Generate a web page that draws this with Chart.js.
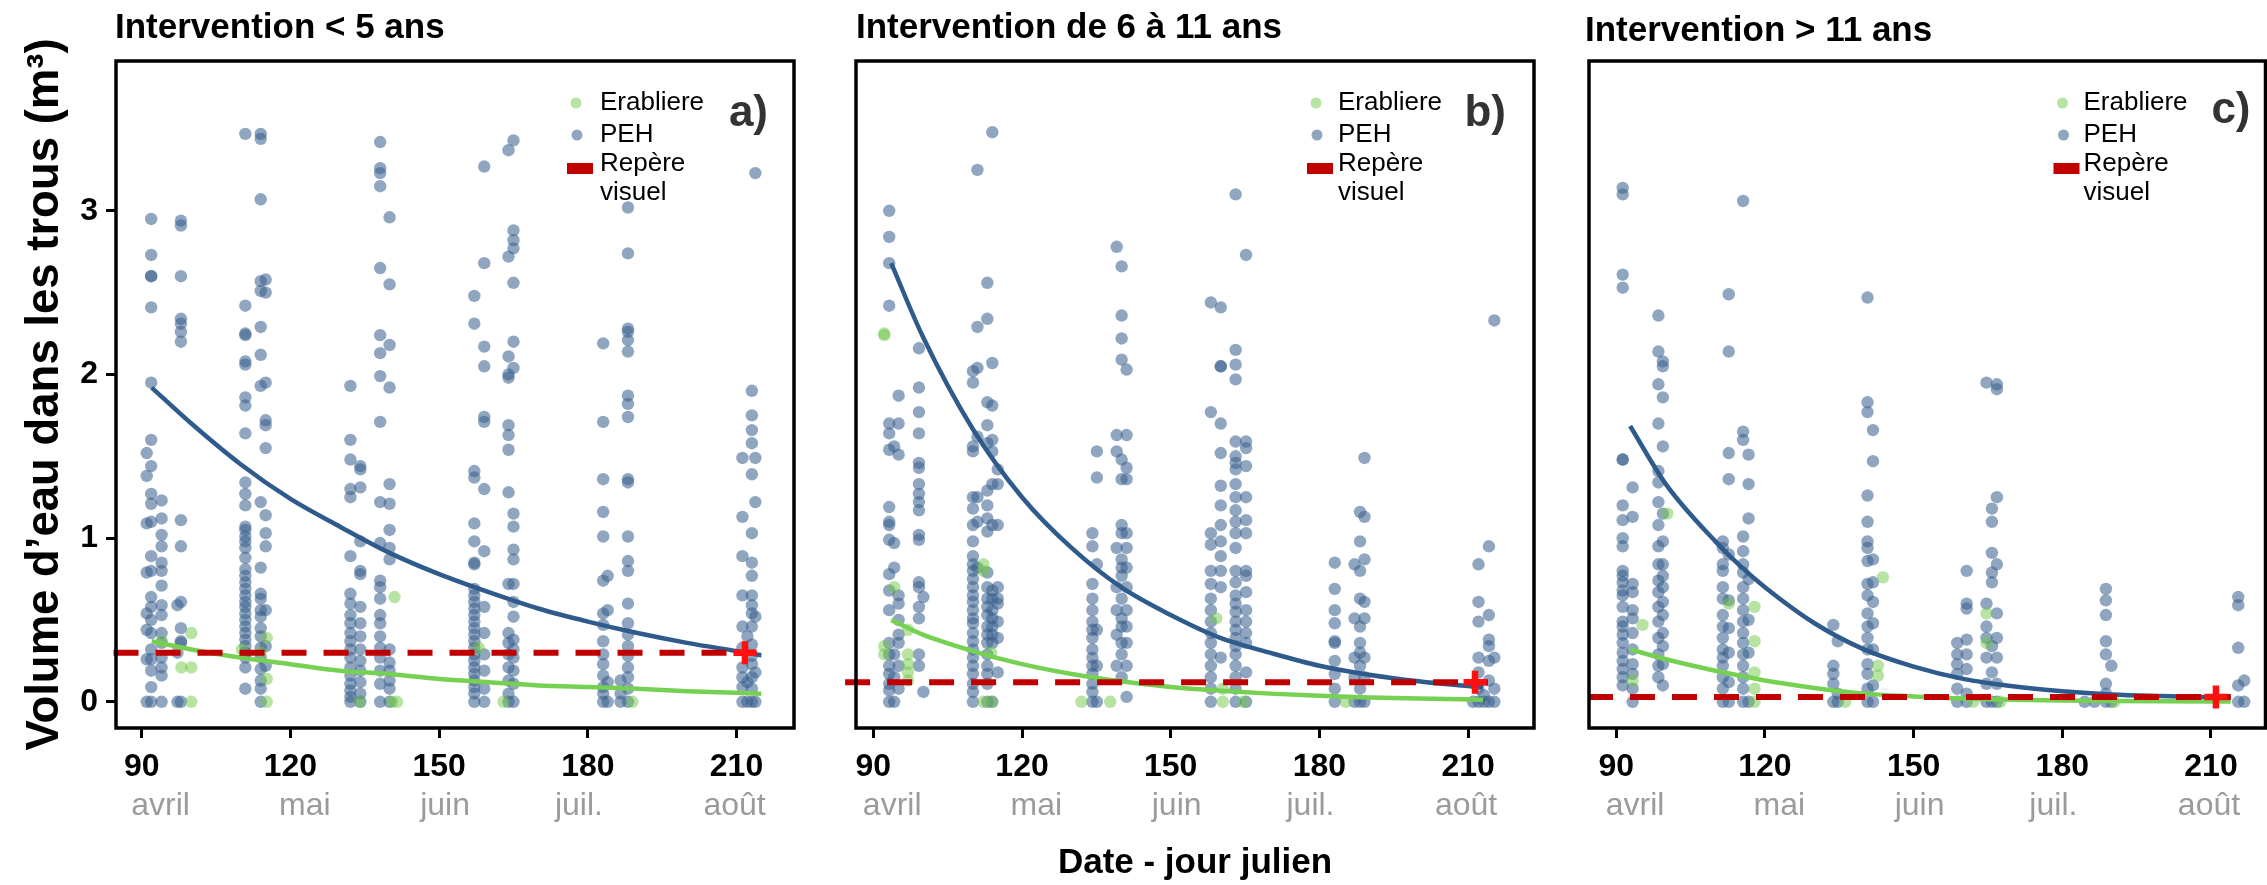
<!DOCTYPE html>
<html>
<head>
<meta charset="utf-8">
<script src="https://cdn.jsdelivr.net/npm/chart.js@4.4.1/dist/chart.umd.min.js"></script>
<style>
  body { margin: 0; background: #fff; width: 2267px; height: 885px; overflow: hidden; }
  canvas { position: absolute; top: 0; }
</style>
</head>
<body>
<canvas id="panelA" width="800" height="885" style="left:0px"></canvas>
<canvas id="panelB" width="760" height="885" style="left:800px"></canvas>
<canvas id="panelC" width="707" height="885" style="left:1560px"></canvas>
<script>
// ticks and labels
var xTicks = [90, 120, 150, 180, 210];
var yTicks = [0, 1, 2, 3];
var months = ['avril', 'mai', 'juin', 'juil.', 'août'];
var monthPos = [93.8, 122.9, 151.2, 178.2, 209.6];
var titles = ['Intervention < 5 ans', 'Intervention de 6 à 11 ans', 'Intervention > 11 ans'];
var letters = ['a)', 'b)', 'c)'];

// repère visuel (level) and position of the red cross
var repere = [0.30, 0.12, 0.03];
var repereDay = [211.7, 211.4, 211.0];

// scatter points: [jour julien, [volumes...]]
var pehA = [
    [91.9, [2.95, 2.73, 2.60, 2.60, 2.41, 1.95, 1.60, 1.44, 1.27, 1.21, 1.10, 0.89, 0.80, 0.64, 0.58, 0.50, 0.42, 0.32, 0.26, 0.19, 0.09, 0]],
    [91.0, [1.52, 1.38, 1.09, 0.79, 0.54, 0.44, 0.26, 0]],
    [94.0, [1.23, 1.12, 1.02, 0.95, 0.85, 0.80, 0.71, 0.59, 0.53, 0.42, 0.36, 0.27, 0.21, 0.16, 0]],
    [97.9, [2.94, 2.91, 2.60, 2.34, 2.31, 2.26, 2.20, 1.11, 0.95, 0.61, 0.45, 0.37, 0.36, 0]],
    [97.2, [0.59, 0.30, 0]],
    [110.9, [3.47, 2.42, 2.25, 2.24, 2.08, 2.06, 1.86, 1.81, 1.64, 1.34, 1.27, 1.20, 1.07, 1.05, 1.01, 0.98, 0.94, 0.88, 0.81, 0.77, 0.73, 0.69, 0.65, 0.61, 0.58, 0.54, 0.50, 0.46, 0.42, 0.38, 0.34, 0.30, 0.27, 0.21, 0.08]],
    [114.0, [3.47, 3.44, 3.07, 2.57, 2.51, 2.29, 2.12, 1.93, 1.22, 0.82, 0.66, 0.63, 0.56, 0.52, 0.45, 0.40, 0.33, 0.27, 0.20, 0.13, 0.08, 0]],
    [115.0, [2.58, 2.50, 1.95, 1.72, 1.69, 1.55, 1.14, 1.03, 0.95, 0.56, 0.34, 0.22]],
    [132.1, [1.93, 1.60, 1.48, 1.30, 1.25, 0.89, 0.66, 0.60, 0.53, 0.48, 0.42, 0.37, 0.32, 0.27, 0.21, 0.16, 0.11, 0.07, 0.03, 0]],
    [134.1, [1.44, 1.42, 1.31, 0.98, 0.80, 0.78, 0.58, 0.48, 0.40, 0.32, 0.25, 0.19, 0.12, 0.05, 0]],
    [138.1, [3.42, 3.26, 3.23, 3.15, 2.65, 2.24, 2.13, 1.99, 1.71, 1.22, 0.97, 0.74, 0.70, 0.63, 0.53, 0.48, 0.40, 0.33, 0.27, 0.19, 0.11, 0]],
    [140.0, [2.96, 2.55, 2.18, 1.92, 1.33, 1.21, 1.05, 0.94, 0.87, 0.32, 0.24, 0.19, 0.13, 0.08, 0]],
    [157.1, [2.48, 2.31, 1.41, 1.37, 1.09, 0.98, 0.85, 0.84, 0.69, 0.65, 0.61, 0.57, 0.53, 0.49, 0.45, 0.41, 0.37, 0.33, 0.29, 0.25, 0.21, 0.17, 0.13, 0.09, 0.05, 0]],
    [159.1, [3.27, 2.68, 2.17, 2.05, 1.74, 1.71, 1.30, 0.92, 0.58, 0.42, 0.29, 0.19, 0.08, 0]],
    [164.0, [3.37, 2.72, 2.11, 2.00, 1.98, 1.69, 1.63, 1.54, 1.28, 0.72, 0.42, 0.36, 0.29, 0.21, 0.13, 0.05, 0]],
    [165.0, [3.43, 2.88, 2.82, 2.77, 2.56, 2.20, 2.04, 1.15, 1.07, 0.93, 0.87, 0.72, 0.61, 0.52, 0.38, 0.32, 0.27, 0.19, 0.11, 0]],
    [183.1, [2.19, 1.71, 1.36, 1.16, 1.01, 0.74, 0.54, 0.47, 0.37, 0.29, 0.23, 0.16, 0.09, 0.05, 0]],
    [184.0, [0.77, 0.56, 0.12, 0]],
    [186.6, [0.13, 0.05, 0]],
    [188.1, [3.02, 2.74, 2.28, 2.26, 2.21, 2.14, 1.87, 1.82, 1.74, 1.36, 1.34, 1.01, 0.86, 0.80, 0.60, 0.48, 0.41, 0.34, 0.28, 0.21, 0.15, 0.08, 0]],
    [211.2, [1.49, 1.13, 0.89, 0.65, 0.46, 0.33, 0.21, 0.15, 0.09, 0]],
    [212.2, [0.40, 0.12, 0]],
    [213.1, [1.90, 1.75, 1.66, 1.58, 1.39, 1.03, 0.85, 0.77, 0.65, 0.59, 0.54, 0.46, 0.35, 0.28, 0.23, 0.15, 0.08, 0]],
    [213.8, [3.23, 1.49, 1.22, 0.52, 0.18, 0]]
];
var erabA = [
    [94.0, [0.37]], [98.0, [0.21]], [100.0, [0.42, 0.21, 0]], [110.2, [0.32]], [114.0, [0.30]],
    [115.2, [0.39, 0.14, 0]], [134.0, [0]], [140.5, [0]], [141.0, [0.64]], [141.5, [0]],
    [158.0, [0.33]], [163.0, [0]], [189.0, [0]]
];

var pehB = [
    [93.2, [3.00, 2.84, 2.68, 2.42, 1.70, 1.64, 1.54, 1.19, 1.10, 1.08, 0.99, 0.78, 0.68, 0.56, 0.36, 0.29, 0.22, 0.17, 0.11, 0.07, 0]],
    [94.2, [1.56, 0.97, 0.82, 0.29, 0.15, 0]],
    [95.1, [1.87, 1.70, 1.51, 0.65, 0.60, 0.50, 0.41, 0.36, 0.22, 0.08]],
    [99.2, [2.16, 1.92, 1.77, 1.64, 1.46, 1.43, 1.33, 1.27, 1.22, 1.17, 1.02, 0.99, 0.73, 0.70, 0.58, 0.51, 0.29, 0.22]],
    [100.1, [0.64, 0.06]],
    [110.1, [2.02, 1.95, 1.56, 1.53, 1.25, 1.18, 1.08, 0.98, 0.89, 0.84, 0.80, 0.75, 0.70, 0.65, 0.61, 0.56, 0.51, 0.48, 0.42, 0.37, 0.32, 0.27, 0.22, 0.17, 0.11, 0.06, 0]],
    [111.0, [3.25, 2.29, 2.04, 1.62, 1.25, 1.10, 0.82]],
    [113.0, [2.56, 2.34, 1.83, 1.69, 1.58, 1.29, 1.20, 1.12, 1.04, 0.79, 0.70, 0.63, 0.58, 0.53, 0.46, 0.41, 0.36, 0.29, 0.22, 0.17, 0.11, 0]],
    [114.0, [3.48, 2.07, 1.81, 1.60, 1.53, 1.33, 1.08, 0.68, 0.63, 0.56, 0.51, 0.46, 0.41, 0.36, 0]],
    [115.1, [1.42, 1.33, 1.08, 0.70, 0.63, 0.60, 0.49, 0.39, 0.18]],
    [134.2, [1.03, 0.95, 0.72, 0.63, 0.56, 0.49, 0.44, 0.39, 0.32, 0.27, 0.22, 0.17, 0.11, 0.06, 0]],
    [135.1, [1.53, 1.37, 0.84, 0.44, 0.22, 0]],
    [139.1, [2.78, 1.63, 1.53, 0.94, 0.70, 0.56, 0.41, 0.22]],
    [140.1, [2.66, 2.36, 2.22, 2.09, 1.48, 1.36, 1.08, 1.03, 0.87, 0.82, 0.77, 0.63, 0.51, 0.46, 0.36, 0.29, 0.15]],
    [141.1, [2.03, 1.63, 1.43, 1.36, 1.03, 0.94, 0.82, 0.70, 0.56, 0.46, 0.36, 0.22, 0.03]],
    [158.1, [2.44, 1.77, 1.03, 0.96, 0.80, 0.72, 0.63, 0.56, 0.49, 0.42, 0.36, 0.29, 0.22, 0.15, 0.08, 0]],
    [160.1, [2.41, 2.05, 2.05, 1.70, 1.52, 1.32, 1.20, 1.08, 0.98, 0.89, 0.80, 0.70, 0.27]],
    [163.1, [3.10, 2.15, 2.06, 1.97, 1.59, 1.50, 1.46, 1.42, 1.33, 1.25, 1.17, 1.10, 1.03, 0.94, 0.80, 0.73, 0.65, 0.60, 0.55, 0.49, 0.44, 0.39, 0.34, 0.29, 0.22, 0.15, 0.08, 0]],
    [165.2, [2.73, 1.59, 1.55, 1.44, 1.25, 1.11, 1.03, 0.80, 0.77, 0.67, 0.56, 0.49, 0.42, 0.36, 0.18, 0]],
    [183.1, [0.85, 0.69, 0.56, 0.48, 0.37, 0.36, 0.25, 0.17, 0.08, 0]],
    [187.1, [0.84, 0.51, 0.27, 0.15, 0]],
    [188.2, [1.16, 0.98, 0.80, 0.63, 0.46, 0.36, 0.30, 0.22, 0.08, 0]],
    [189.1, [1.49, 1.13, 0.87, 0.61, 0.51, 0.27, 0.15, 0]],
    [211.0, [0]],
    [212.1, [0.84, 0.61, 0.49, 0.27, 0.18, 0.08, 0]],
    [213.2, [0.04, 0]],
    [214.2, [0.95, 0.53, 0.38, 0.34, 0.25, 0.13, 0]],
    [215.3, [2.33, 0.27, 0.08, 0]]
];
var erabB = [
    [92.2, [2.25, 2.24, 0.34, 0.29]], [94.2, [0.70]], [97.0, [0.44, 0.29, 0.23, 0.18, 0.13]],
    [112.2, [0.84, 0.80, 0]], [113.8, [0.30, 0]], [132.0, [0]], [137.8, [0]],
    [159.2, [0.51]], [160.5, [0.08, 0]], [164.6, [0]], [185.3, [0]]
];

var pehC = [
    [91.3, [3.14, 3.10, 2.61, 2.53, 1.48, 1.48, 1.20, 1.11, 1.00, 0.95, 0.80, 0.77, 0.73, 0.68, 0.65, 0.58, 0.49, 0.46, 0.41, 0.36, 0.30, 0.25, 0.20, 0.15, 0.10]],
    [93.3, [1.31, 1.13, 0.72, 0.67, 0.56, 0.51, 0.42, 0.32, 0.23, 0.17, 0.08, 0]],
    [98.5, [2.36, 2.14, 1.94, 1.70, 1.41, 1.34, 1.22, 1.08, 0.95, 0.84, 0.74, 0.67, 0.58, 0.49, 0.39, 0.29, 0.22, 0.15]],
    [99.4, [2.08, 2.05, 1.86, 1.56, 1.15, 0.98, 0.84, 0.77, 0.70, 0.61, 0.53, 0.42, 0.34, 0.23, 0.10]],
    [111.5, [0.98, 0.94, 0.84, 0.80, 0.70, 0.63, 0.53, 0.46, 0.39, 0.32, 0.27, 0.22, 0.15, 0.08, 0]],
    [112.7, [2.49, 2.14, 1.52, 1.36, 0.90, 0.62, 0.45, 0.30, 0.12, 0]],
    [115.6, [3.06, 1.65, 1.60, 1.01, 0.92, 0.84, 0.79, 0.70, 0.63, 0.56, 0.49, 0.42, 0.36, 0.29, 0.22, 0.15, 0.08, 0]],
    [116.7, [1.51, 1.33, 1.12, 0.75, 0.50, 0.30, 0]],
    [133.8, [0.47, 0.22, 0.17, 0.11, 0]],
    [134.7, [0.37, 0.05, 0]],
    [140.7, [2.47, 1.83, 1.77, 1.26, 1.10, 0.98, 0.94, 0.86, 0.72, 0.65, 0.54, 0.46, 0.39, 0.32, 0.23, 0.17, 0.08, 0]],
    [141.8, [1.66, 1.47, 0.87, 0.73, 0.61, 0.48, 0.32, 0.10, 0]],
    [158.8, [0.36, 0.29, 0.23, 0.17, 0.08, 0]],
    [160.7, [0.80, 0.60, 0.57, 0.38, 0.29, 0.20, 0.05, 0]],
    [164.7, [1.95, 0.60, 0.46, 0.39, 0.27, 0.11, 0]],
    [165.8, [1.18, 1.10, 0.91, 0.79, 0.73, 0.34, 0.18, 0]],
    [166.8, [1.94, 1.91, 1.25, 0.84, 0.54, 0.39, 0.27, 0.11, 0]],
    [184.5, [0]], [186.5, [0]],
    [188.8, [0.69, 0.62, 0.53, 0.37, 0.29, 0.11, 0.05, 0]],
    [189.9, [0.22, 0]],
    [215.5, [0.64, 0.59, 0.33, 0.10, 0]],
    [216.7, [0.13, 0]]
];
var erabC = [
    [93.3, [0.13]], [95.3, [0.47]], [100.3, [1.15]], [112.7, [0.60]], [117.9, [0.58, 0.37, 0.18, 0.08, 0]],
    [136.2, [0]], [142.8, [0.22, 0.16]], [143.8, [0.76]], [162.0, [0]], [164.7, [0.54, 0.36]],
    [167.5, [0]], [190.5, [0]]
];

// fitted curves
var fitDaysA = [92, 100, 110, 120, 130, 140, 150, 160, 170, 180, 190, 200, 210, 215];
var fitPehA = [1.92, 1.70, 1.45, 1.24, 1.07, 0.91, 0.78, 0.67, 0.57, 0.49, 0.42, 0.36, 0.31, 0.285];
var fitErabA = [0.37, 0.32, 0.27, 0.23, 0.19, 0.17, 0.14, 0.12, 0.10, 0.09, 0.08, 0.065, 0.055, 0.05];
var fitDaysB = [93.6, 100, 110, 120, 130, 140, 150, 160, 170, 180, 190, 200, 213];
var fitPehB = [2.68, 2.23, 1.67, 1.25, 0.94, 0.70, 0.53, 0.39, 0.30, 0.22, 0.165, 0.125, 0.087];
var fitErabB = [0.50, 0.41, 0.31, 0.23, 0.17, 0.125, 0.09, 0.068, 0.05, 0.037, 0.027, 0.02, 0.013];
var fitDaysC = [92.8, 100, 110, 115, 120, 130, 140, 150, 160, 170, 180, 190, 200, 214];
var fitPehC = [1.685, 1.33, 0.98, 0.83, 0.70, 0.48, 0.32, 0.215, 0.14, 0.095, 0.065, 0.045, 0.035, 0.025];
var fitErabC = [0.32, 0.26, 0.19, 0.16, 0.13, 0.085, 0.05, 0.033, 0.02, 0.013, 0.008, 0.005, 0.003, 0.002];

Chart.defaults.font.family = '"Liberation Sans", Arial, sans-serif';

function toPoints(cols) {
    var pts = [];
    cols.forEach(function (c) {
        c[1].forEach(function (v) { pts.push({ x: c[0], y: v }); });
    });
    return pts;
}
function toLine(days, vals) {
    return days.map(function (d, i) { return { x: d, y: vals[i] }; });
}

var decor = {
    id: 'decor',
    afterDraw: function (chart, args, o) {
        var ctx = chart.ctx, a = chart.chartArea, xs = chart.scales.x;
        ctx.save();
        ctx.lineWidth = 3.5;
        ctx.strokeStyle = '#000';
        ctx.strokeRect(a.left, a.top, a.right - a.left, a.bottom - a.top);

        ctx.textBaseline = 'middle';
        ctx.fillStyle = '#000';
        ctx.textAlign = 'left';
        ctx.font = 'bold 35px "Liberation Sans"';
        ctx.fillText(o.title, a.left + o.titleDx, o.titleY);

        ctx.font = 'bold 44px "Liberation Sans"';
        ctx.fillStyle = '#333';
        ctx.textAlign = 'right';
        ctx.fillText(o.letter, a.right - o.letterDx, o.letterY);

        // legend
        var lx = a.right - o.legendDx;
        ctx.fillStyle = 'rgba(112,200,72,0.5)';
        ctx.beginPath(); ctx.arc(lx, 103, 5.5, 0, Math.PI * 2); ctx.fill();
        ctx.fillStyle = 'rgba(52,93,140,0.55)';
        ctx.beginPath(); ctx.arc(lx + 1, 135, 5.5, 0, Math.PI * 2); ctx.fill();
        ctx.fillStyle = '#c00000';
        ctx.fillRect(lx - 9, 163, 26, 11);
        ctx.fillStyle = '#000';
        ctx.textAlign = 'left';
        ctx.font = '26px "Liberation Sans"';
        ctx.fillText('Erabliere', lx + o.textDx, 103);
        ctx.fillText('PEH', lx + o.textDx, 135);
        ctx.fillText('Repère', lx + o.textDx, 164);
        ctx.fillText('visuel', lx + o.textDx, 193);

        // month names under the day ticks
        ctx.font = '32px "Liberation Sans"';
        ctx.fillStyle = '#9b9b9b';
        ctx.textAlign = 'center';
        months.forEach(function (m, i) {
            ctx.fillText(m, xs.getPixelForValue(monthPos[i]), 806);
        });
        ctx.restore();
    }
};

function makePanel(id, k, peh, erab, fitDays, fitPeh, fitErab, xmin, xmax, pad, deco) {
    var first = k === 0;
    new Chart(document.getElementById(id).getContext('2d'), {
        type: 'scatter',
        data: {
            datasets: [
                {
                    label: 'PEH',
                    data: toPoints(peh),
                    backgroundColor: 'rgba(52,93,140,0.55)',
                    pointRadius: 6.2,
                    borderWidth: 0,
                    order: 6
                },
                {
                    label: 'Erabliere',
                    data: toPoints(erab),
                    backgroundColor: 'rgba(112,200,72,0.5)',
                    pointRadius: 6.2,
                    borderWidth: 0,
                    order: 5
                },
                {
                    label: 'fit PEH',
                    data: toLine(fitDays, fitPeh),
                    showLine: true,
                    borderColor: '#2f5b8c',
                    borderWidth: 4.5,
                    pointRadius: 0,
                    cubicInterpolationMode: 'monotone',
                    order: 4
                },
                {
                    label: 'fit Erabliere',
                    data: toLine(fitDays, fitErab),
                    showLine: true,
                    borderColor: '#76d152',
                    borderWidth: 4.5,
                    pointRadius: 0,
                    cubicInterpolationMode: 'monotone',
                    order: 3
                },
                {
                    label: 'Repère visuel',
                    data: [{ x: 84.3, y: repere[k] }, { x: 214, y: repere[k] }],
                    showLine: true,
                    borderColor: '#c00000',
                    borderWidth: 6,
                    borderDash: [25, 17],
                    pointRadius: 0,
                    clip: false,
                    order: 2
                },
                {
                    label: 'repère',
                    data: [{ x: repereDay[k], y: repere[k] }],
                    pointStyle: 'cross',
                    pointRadius: 11.5,
                    borderColor: '#ff1010',
                    borderWidth: 6.5,
                    order: 1
                }
            ]
        },
        options: {
            responsive: false,
            animation: false,
            events: [],
            layout: { autoPadding: false, padding: { left: pad[0], right: pad[1], top: 61, bottom: 0 } },
            plugins: {
                legend: { display: false },
                tooltip: { enabled: false },
                decor: deco
            },
            scales: {
                x: {
                    type: 'linear',
                    min: xmin,
                    max: xmax,
                    afterBuildTicks: function (s) { s.ticks = xTicks.map(function (v) { return { value: v }; }); },
                    afterFit: function (s) { s.height = 157; },
                    border: { display: false },
                    grid: { drawOnChartArea: false, tickLength: 10, tickColor: '#000', tickWidth: 3 },
                    ticks: { color: '#000', padding: 10, font: { size: 32, weight: 'bold' } },
                    title: {
                        display: k === 1,
                        text: 'Date - jour julien',
                        color: '#000',
                        font: { size: 35, weight: 'bold' },
                        padding: { top: 0, bottom: 1 }
                    }
                },
                y: {
                    display: first,
                    min: -0.16,
                    max: 3.915,
                    afterBuildTicks: function (s) { s.ticks = yTicks.map(function (v) { return { value: v }; }); },
                    afterFit: function (s) { if (first) { s.width = 116; } },
                    border: { display: false },
                    grid: { drawOnChartArea: false, tickLength: 10, tickColor: '#000', tickWidth: 3 },
                    ticks: { color: '#000', padding: 8, font: { size: 32, weight: 'bold' } },
                    title: {
                        display: first,
                        text: 'Volume d’eau dans les trous (m³)',
                        color: '#000',
                        font: { size: 45.5, weight: 'bold' },
                        padding: { top: 18, bottom: 0 }
                    }
                }
            }
        },
        plugins: [decor]
    });
}

makePanel('panelA', 0, pehA, erabA, fitDaysA, fitPehA, fitErabA, 84.8, 221.6, [0, 6],
    { title: titles[0], letter: letters[0], titleDx: -1, titleY: 28, letterDx: 26, letterY: 114, legendDx: 218, textDx: 24 });
makePanel('panelB', 1, pehB, erabB, fitDaysB, fitPehB, fitErabB, 86.5, 223.3, [56, 26],
    { title: titles[1], letter: letters[1], titleDx: 0, titleY: 28, letterDx: 28, letterY: 114, legendDx: 218, textDx: 22 });
makePanel('panelC', 2, pehC, erabC, fitDaysC, fitPehC, fitErabC, 84.5, 221.0, [29, 1.5],
    { title: titles[2], letter: letters[2], titleDx: -4, titleY: 31, letterDx: 15, letterY: 111, legendDx: 203, textDx: 21 });
</script>
</body>
</html>
